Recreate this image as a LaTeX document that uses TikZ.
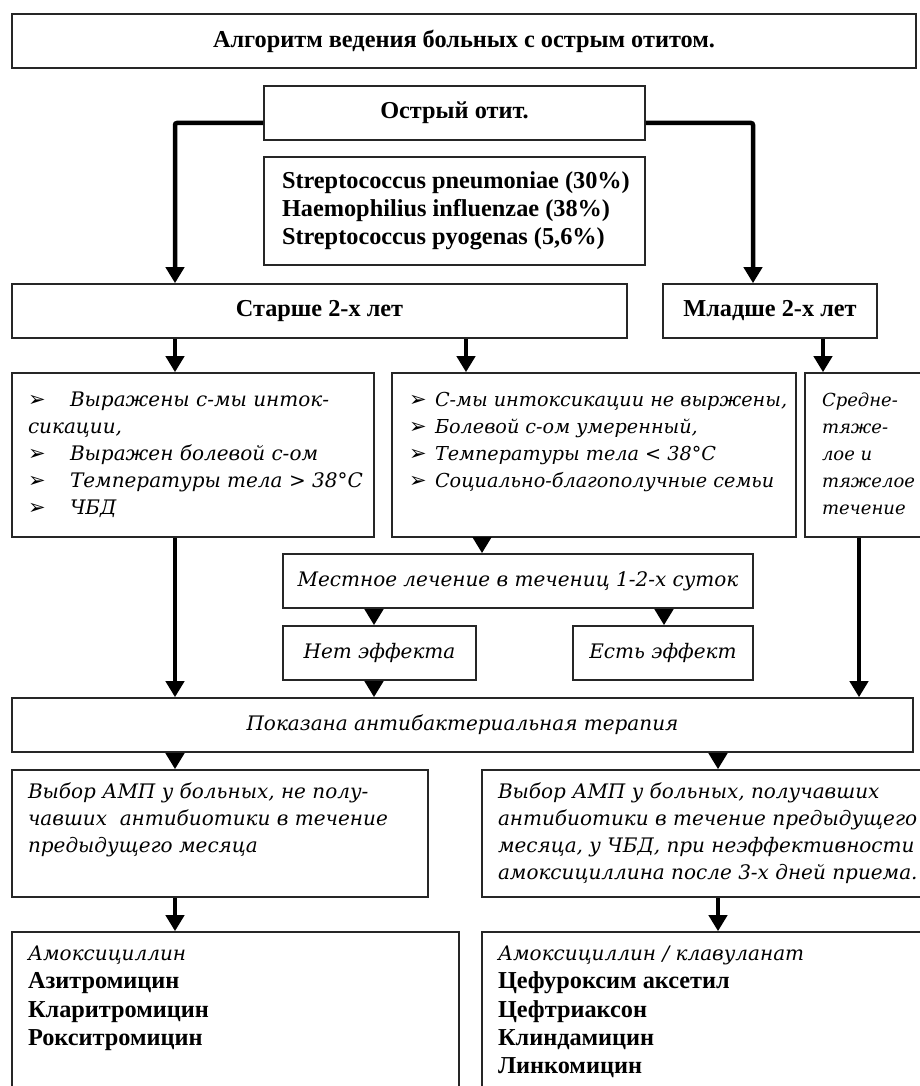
\documentclass[tikz,border=0pt]{standalone}
\usepackage{fontspec}
\setmainfont{Liberation Serif}
\newfontfamily\itf{DejaVu Serif}
\newfontfamily\symf{DejaVu Sans}
\usetikzlibrary{arrows.meta}
\newcommand\bul{{\symf\upshape\mdseries\fontsize{21}{21}\selectfont ➢}}
\newcommand\itbody{\itf\mdseries\itshape\fontsize{20}{27}\selectfont}
\newcommand\itmid{\itf\mdseries\itshape\fontsize{19.2}{27}\selectfont}
\newcommand\itnarrow{\itf\mdseries\itshape\fontsize{18}{27}\selectfont}
\newcommand\bfbody{\bfseries\fontsize{24.3}{28}\selectfont}
\newcommand\bfwide{\bfseries\fontsize{24.3}{28.3}\selectfont}
\begin{document}
\begin{tikzpicture}[x=1pt,y=-1pt,
  box/.style={draw=black!85, line width=1.6pt, rectangle, inner sep=0pt, text=black},
  arr/.style={line width=4.5pt, -{Triangle[width=18pt,length=16pt]}, rounded corners=2pt}]
\useasboundingbox (0,0) rectangle (920,1086);
\clip (0,0) rectangle (920,1086);

% x positions of the connectors
\coordinate (xa) at (175,0);
\coordinate (xb) at (753,0);
\coordinate (xc) at (466,0);
\coordinate (xd) at (823,0);
\coordinate (xe) at (482,0);
\coordinate (xf) at (374,0);
\coordinate (xg) at (664,0);
\coordinate (xh) at (859,0);
\coordinate (xi) at (718,0);
\coordinate (ya) at (0,123);

\node[box, minimum width=904pt, minimum height=54pt] (title) at (464,41)
  {\bfbody Алгоритм ведения больных с острым отитом.};
\node[box, minimum width=381pt, minimum height=54pt] (ost) at (454.5,113)
  {\bfbody Острый отит.};
\node[box, minimum width=381pt, minimum height=108pt] (strep) at (454.5,211)
  {\parbox{345pt}{\raggedright\bfbody
   \strut\mbox{Streptococcus pneumoniae (30\%)}\\
   \strut\mbox{Haemophilius influenzae (38\%)}\\
   \strut\mbox{Streptococcus pyogenas (5,6\%)}}};
\node[box, minimum width=615pt, minimum height=54pt] (old) at (319.5,311)
  {\bfbody Старше 2-х лет};
\node[box, minimum width=214pt, minimum height=54pt] (young) at (770,311)
  {\bfbody Младше 2-х лет};

\node[box, minimum width=362pt, minimum height=164pt] (b1) at (193,455)
  {\parbox{330pt}{\raggedright\itbody
   \strut\makebox[42pt][l]{\bul}Выражены с-мы инток-\\
   \strut сикации,\\
   \strut\makebox[42pt][l]{\bul}Выражен болевой с-ом\\
   \strut\makebox[42pt][l]{\bul}\mbox{Температуры тела > 38°С}\\
   \strut\makebox[42pt][l]{\bul}ЧБД}};
\node[box, minimum width=404pt, minimum height=164pt] (b2) at (594,455)
  {\parbox{370pt}{\raggedright\itmid
   \strut\makebox[26pt][l]{\bul}\mbox{С-мы интоксикации не выржены,}\\
   \strut\makebox[26pt][l]{\bul}Болевой с-ом умеренный,\\
   \strut\makebox[26pt][l]{\bul}Температуры тела < 38°С\\
   \strut\makebox[26pt][l]{\bul}\mbox{Социально-благополучные семьи}\\
   \strut}};
\node[box, minimum width=135pt, minimum height=164pt] (b3) at (872.5,455)
  {\parbox{101pt}{\raggedright\itnarrow
   \strut Средне-\\
   \strut тяже-\\
   \strut лое и\\
   \strut\mbox{тяжелое}\\
   \strut течение}};

\node[box, minimum width=470pt, minimum height=54pt] (loc) at (518,581)
  {\itbody Местное лечение в течениц 1-2-х суток};
\node[box, minimum width=193pt, minimum height=54pt] (no) at (379.5,653)
  {\itbody Нет эффекта};
\node[box, minimum width=180pt, minimum height=54pt] (yes) at (663,653)
  {\itbody Есть эффект};
\node[box, minimum width=901pt, minimum height=54pt] (abx) at (462.5,725)
  {\itbody Показана антибактериальная терапия};

\node[box, minimum width=416pt, minimum height=127pt] (c1) at (220,833.5)
  {\parbox{384pt}{\raggedright\itbody
   \strut Выбор АМП у больных, не полу-\\
   \strut чавших\ \ антибиотики в течение\\
   \strut предыдущего месяца\\
   \strut}};
\node[box, minimum width=458pt, minimum height=127pt] (c2) at (711,833.5)
  {\parbox{426pt}{\raggedright\itbody
   \strut Выбор АМП у больных, получавших\\
   \strut антибиотики в течение предыдущего\\
   \strut месяца, у ЧБД, при неэффективности\\
   \strut\mbox{амоксициллина после 3-х дней приема.}}};

\node[box, minimum width=447pt, minimum height=159pt] (d1) at (235.5,1011.5)
  {\parbox{415pt}{\raggedright\bfwide
   \strut{\itbody Амоксициллин}\\
   \strut Азитромицин\\
   \strut Кларитромицин\\
   \strut Рокситромицин\\
   \strut}};
\node[box, minimum width=458pt, minimum height=159pt] (d2) at (711,1011.5)
  {\parbox{426pt}{\raggedright\bfwide
   \strut{\itbody Амоксициллин / клавуланат}\\
   \strut Цефуроксим аксетил\\
   \strut Цефтриаксон\\
   \strut Клиндамицин\\
   \strut Линкомицин}};

% connectors
\draw[arr] (ost.west |- ya) -| (old.north -| xa);
\draw[arr] (ost.east |- ya) -| (young.north -| xb);
\draw[arr] (old.south -| xa) -- (b1.north -| xa);
\draw[arr] (old.south -| xc) -- (b2.north -| xc);
\draw[arr] (young.south -| xd) -- (b3.north -| xd);
\draw[arr] (b2.south -| xe) -- (loc.north -| xe);
\draw[arr] (loc.south -| xf) -- (no.north -| xf);
\draw[arr] (loc.south -| xg) -- (yes.north -| xg);
\draw[arr] (no.south -| xf) -- (abx.north -| xf);
\draw[arr] (b1.south -| xa) -- (abx.north -| xa);
\draw[arr] (b3.south -| xh) -- (abx.north -| xh);
\draw[arr] (abx.south -| xa) -- (c1.north -| xa);
\draw[arr] (abx.south -| xi) -- (c2.north -| xi);
\draw[arr] (c1.south -| xa) -- (d1.north -| xa);
\draw[arr] (c2.south -| xi) -- (d2.north -| xi);
\end{tikzpicture}
\end{document}
